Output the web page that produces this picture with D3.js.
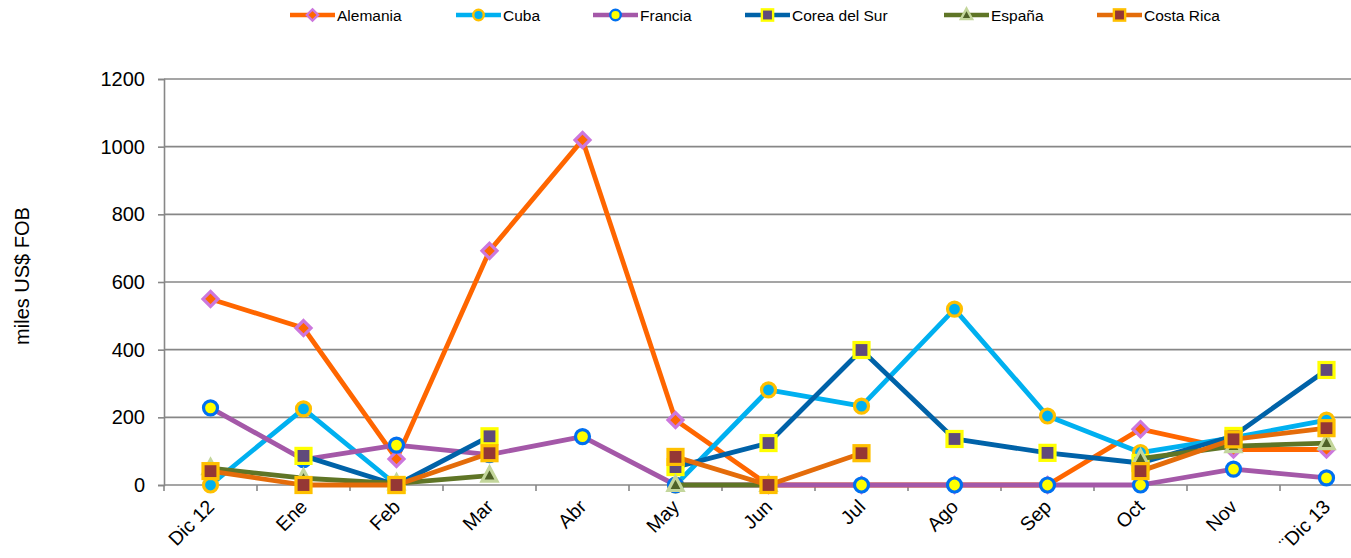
<!DOCTYPE html>
<html><head><meta charset="utf-8">
<script src="https://cdn.jsdelivr.net/npm/d3@7"></script>
<style>body{margin:0;background:#fff}svg{display:block;font-family:"Liberation Sans",Arial,sans-serif}</style>
</head><body><svg id="c" width="1351" height="558"></svg>
<script>
const categories = ["Dic 12","Ene","Feb","Mar","Abr","May","Jun","Jul","Ago","Sep","Oct","Nov","¨Dic 13"];
const yTicks = [0,200,400,600,800,1000,1200];
const alemania = [550,464,77,692,1020,192,0,0,0,0,165,105,105];
const cuba     = [0,225,0,null,null,0,281,233,520,204,96,140,192];
const francia  = [228,75,118,90,143,0,0,0,0,0,0,47,21];
const corea    = [null,86,0,144,null,53,124,399,136,95,65,145,340];
const espana   = [50,20,5,28,null,0,0,null,null,null,78,115,124];
const costaRica= [41,0,0,94,null,83,0,94,null,null,41,135,168];

const series = [
  {name:"Alemania", values:alemania, line:"#FF6600", shape:"diamond", fill:"#FF6600", stroke:"#CC77DD"},
  {name:"Cuba", values:cuba, line:"#00B0F0", shape:"circle", fill:"#00B0F0", stroke:"#FFC000"},
  {name:"Francia", values:francia, line:"#A458A8", shape:"circle", fill:"#FFFF00", stroke:"#0070F0"},
  {name:"Corea del Sur", values:corea, line:"#0062A8", shape:"square", fill:"#604A7B", stroke:"#FFFF00"},
  {name:"España", values:espana, line:"#5F7526", shape:"triangle", fill:"#4F6228", stroke:"#C3D69B"},
  {name:"Costa Rica", values:costaRica, line:"#E46C0A", shape:"square", fill:"#953735", stroke:"#FFC000"}
];

const svg = d3.select("#c");
const x = d3.scalePoint().domain(categories).range([164, 1373]).padding(0.5);
const y = d3.scaleLinear().domain([0,1200]).range([485, 79]);
const step = x.step();

// gridlines
svg.append("g").selectAll("line").data(yTicks.filter(d=>d>0)).join("line")
  .attr("x1",164).attr("x2",1351).attr("y1",d=>y(d)).attr("y2",d=>y(d))
  .attr("stroke","#878787").attr("stroke-width",1.6);

// y axis
const ya = svg.append("g").attr("transform","translate(164,0)")
  .call(d3.axisLeft(y).tickValues(yTicks).tickSize(6).tickPadding(13).tickFormat(d3.format("d")));
ya.select(".domain").attr("stroke","#878787").attr("stroke-width",1.6);
ya.selectAll(".tick line").attr("stroke","#878787").attr("stroke-width",1.6);
ya.selectAll("text").attr("font-size",20).attr("fill","#000").attr("font-family","Liberation Sans, Arial, sans-serif");

// x axis
svg.append("line").attr("x1",164).attr("x2",1351).attr("y1",y(0)).attr("y2",y(0))
  .attr("stroke","#878787").attr("stroke-width",1.6);
svg.append("g").selectAll("line").data(d3.range(categories.length+1)).join("line")
  .attr("x1",i=>164+i*step).attr("x2",i=>164+i*step).attr("y1",y(0)).attr("y2",y(0)+6)
  .attr("stroke","#878787").attr("stroke-width",1.6);
svg.append("g").selectAll("text").data(categories).join("text")
  .attr("transform",d=>`translate(${x(d)+5},${y(0)+23}) rotate(-45)`)
  .attr("text-anchor","end").attr("font-size",19.5).attr("fill","#000").text(d=>d);

// y label
svg.append("text").attr("transform","translate(29,276) rotate(-90)").attr("text-anchor","middle")
  .attr("font-size",20).attr("fill","#000").text("miles US$ FOB");

function marker(g, s, cx, cy){
  const common = el => el.attr("fill",s.fill).attr("stroke",s.stroke).attr("stroke-width",3.2);
  if(s.shape==="circle") common(g.append("circle").attr("cx",cx).attr("cy",cy).attr("r",7));
  else if(s.shape==="square") common(g.append("rect").attr("x",cx-7.5).attr("y",cy-7.5).attr("width",15).attr("height",15));
  else if(s.shape==="diamond") common(g.append("path").attr("d",`M${cx},${cy-7.5}L${cx+7.5},${cy}L${cx},${cy+7.5}L${cx-7.5},${cy}Z`));
  else if(s.shape==="triangle") common(g.append("path").attr("d",`M${cx},${cy-8.5}L${cx+7.5},${cy+5.5}L${cx-7.5},${cy+5.5}Z`));
}

const line = d3.line().defined(d=>d.v!==null).x(d=>x(d.c)).y(d=>y(d.v));
series.forEach(s=>{
  const pts = categories.map((c,i)=>({c, v:s.values[i]}));
  const g = svg.append("g");
  g.append("path").datum(pts).attr("d",line).attr("fill","none")
    .attr("stroke",s.line).attr("stroke-width",4.8).attr("stroke-linejoin","round");
  pts.filter(p=>p.v!==null).forEach(p=>marker(g,s,x(p.c),y(p.v)));
});

// legend
const legX = [290, 456, 593, 745, 944, 1097];
series.forEach((s,i)=>{
  const g = svg.append("g").attr("transform",`translate(${legX[i]},15)`);
  g.append("line").attr("x1",0).attr("x2",45).attr("y1",0).attr("y2",0).attr("stroke",s.line).attr("stroke-width",4.5);
  const gm = g.append("g").attr("transform","scale(0.75)").attr("transform-origin","22.5 0");
  marker(gm, s, 22.5, 0);
  g.append("text").attr("x",47).attr("y",5.5).attr("font-size",15.5).attr("fill","#000").text(s.name);
});
</script></body></html>
